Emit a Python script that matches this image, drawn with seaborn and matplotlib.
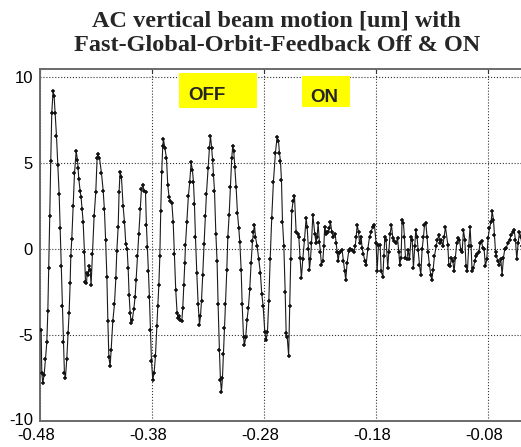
import numpy as np
import pandas as pd
import matplotlib
matplotlib.use("Agg")
import matplotlib.pyplot as plt
from matplotlib.patches import Rectangle
from matplotlib.transforms import ScaledTranslation
import seaborn as sns

# time of the first sample [s]; the sample times below are offsets in ms
T0 = -0.479

# feedback OFF part
TIME_MS_OFF = [
    0.0, 0.6, 1.5, 2.7, 3.9, 5.1, 6.0, 6.8, 7.7, 8.6,
    9.5, 10.7, 11.6, 12.5, 13.7, 14.9, 16.1, 17.0, 17.9, 19.0,
    19.9, 20.8, 21.7, 22.9, 24.1, 25.0, 25.9, 26.5, 27.4, 28.6,
    29.8, 31.3, 32.4, 33.0, 33.6, 34.8, 35.7, 36.6, 37.5, 38.7,
    39.6, 40.5, 41.1, 42.0, 42.9, 43.8, 44.6, 45.8, 47.3, 48.8,
    50.0, 50.6, 52.1, 53.9, 55.4, 56.5, 57.6, 58.7, 59.6, 60.5,
    61.6, 62.5, 64.0, 65.5, 66.7, 67.6, 68.8, 69.6, 70.5, 71.7,
    73.2, 74.4, 75.6, 76.8, 77.7, 78.6, 79.5, 80.4, 81.5, 82.7,
    83.9, 84.8, 86.0, 87.2, 88.4, 89.6, 90.8, 92.0, 93.2, 94.0,
    94.9, 95.8, 96.7, 97.6, 98.5, 99.7, 100.9, 102.1, 103.3, 104.2,
    105.1, 106.0, 106.8, 107.7, 108.6, 109.2, 110.4, 111.9, 113.1, 114.3,
    115.5, 116.7, 117.9, 119.0, 120.2, 121.4, 122.3,
    123.2, 124.4, 125.6, 126.5, 127.4, 128.3, 128.9, 130.1, 131.5, 132.7,
    133.9, 135.1, 136.0, 136.9, 137.8, 139.0, 140.2, 141.4, 142.3, 143.2,
    144.3, 145.5, 146.7, 147.6, 149.1, 150.3, 151.2, 152.2, 153.1, 153.9,
    154.8, 156.0, 157.1, 158.0, 159.2, 160.1, 161.0, 161.9, 162.8, 163.7,
    164.6, 165.8, 166.7, 167.9, 169.0, 170.2, 171.1, 172.0, 172.9, 174.1,
    175.3, 176.5, 177.4, 178.6, 179.5, 180.7, 181.5, 182.7, 183.9, 185.1,
    186.3, 187.5, 188.7, 189.6, 190.5, 191.4, 192.9, 194.3, 195.8, 197.0,
    198.2, 199.7, 200.9, 202.1, 203.3, 204.5, 205.9, 207.4, 209.2, 210.7,
    211.9, 212.8, 213.7, 214.6, 215.5, 216.7, 217.9, 218.8, 219.7, 221.0,
    222.0, 222.9, 223.8, 225.0, 226.2,
]
BEAM_UM_OFF = [
    -4.7, -7.2, -7.8, -7.3, -6.4, -5.4, -3.6, -1.1, 1.9, 5.1,
    7.9, 9.2, 8.9, 7.9, 6.6, 4.9, 3.2, 1.2, -1.0, -3.3,
    -5.4, -7.2, -7.5, -6.4, -4.9, -3.7, -2.0, -0.4, 0.6, 2.5,
    4.4, 5.7, 5.2, 4.7, 4.1, 3.4, 3.0, 2.3, 1.6, -0.2,
    -1.9, -2.0, -1.4, -1.5, -1.0, -1.2, -2.1, -0.3, 1.9, 3.3,
    5.3, 5.5, 5.3, 4.4, 3.4, 2.3, 0.5, -1.6, -4.2, -6.3,
    -6.8, -5.9, -4.2, -3.2, -1.7, -0.1, 1.3, 3.3, 4.5, 4.2,
    2.5, 1.6, 0.3, 0.0, -1.1, -2.7, -3.7, -4.3, -4.1, -3.5,
    -2.8, -1.8, -0.4, 0.9, 2.3, 3.5, 3.7, 3.4, 3.3, 1.4,
    0.1, -1.3, -2.8, -4.7, -6.5, -7.6, -7.2, -6.2, -4.5, -3.3,
    -2.1, -0.4, 2.2, 4.5, 6.0, 6.4, 5.9, 5.3, 3.7, 3.0,
    2.8, 2.7, 1.6, -0.3, -2.4, -3.7, -4.0,
    -3.9, -4.1, -4.2, -3.4, -2.1, -0.8, 0.25, 1.6, 3.1, 3.9,
    5.05, 4.6, 3.9, 2.6, 0.7, -1.4, -3.2, -4.4, -3.9, -3.0,
    -1.5, 0.3, 1.9, 3.2, 4.7, 5.9, 6.6, 5.9, 5.2, 4.3,
    3.4, 0.9, -0.7, -3.2, -5.9, -7.6, -8.3, -7.5, -6.1, -4.6,
    -3.2, -1.2, 0.7, 2.0, 3.6, 5.3, 6.0, 5.7, 4.8, 3.6,
    2.1, 1.2, 0.4, -1.2, -3.2, -5.1, -5.6, -5.1, -4.1, -3.4,
    -2.3, -0.8, 0.45, 1.0, 1.4, 0.7, 0.15, -0.6, -1.4, -2.6,
    -3.3, -4.8, -5.3, -4.8, -3.0, -0.6, 1.8, 3.9, 5.6, 6.5,
    6.3, 5.6, 5.1, 4.0, 1.6, 0.2, -2.5, -4.9, -5.1, -6.2,
    -3.3, -0.6, 2.2, 2.8, 3.1,
]

# feedback ON part
TIME_MS_ON = [
    227.7, 229.2, 230.1, 231.2, 232.4, 233.6, 235.1, 236.6, 237.5,
    238.7, 239.6, 240.5, 241.4, 242.6, 244.3, 245.5, 246.4, 247.3, 248.5,
    249.4, 250.3, 251.5, 252.4, 253.2, 254.4, 255.3, 256.5, 257.4, 258.3,
    259.5, 261.0, 262.5, 263.4, 264.3, 265.2, 266.1, 267.2, 268.7, 269.9,
    271.1, 272.0, 273.2, 274.7, 276.2, 277.7, 279.2, 280.4, 281.3, 282.2,
    283.4, 284.3, 285.7, 286.6, 287.8, 289.0,
    290.2, 291.7, 293.2, 294.6, 296.1, 297.6, 299.1, 300.0, 301.2, 302.7,
    303.6, 305.1, 306.0, 306.9, 308.0, 309.5, 310.4, 311.6, 312.8, 314.0,
    315.5, 317.0, 318.2, 319.4, 320.2, 321.4, 322.3, 323.5, 324.4, 325.3,
    326.5, 327.7, 328.9, 330.4, 331.3, 332.4, 333.6, 334.5, 335.7, 336.6,
    337.8, 339.0, 340.2, 341.4, 342.3, 343.5, 344.6, 345.5, 346.7, 347.9,
    348.8, 350.0, 351.2, 352.7, 353.9, 355.1, 356.2, 357.4, 358.6, 359.8,
    361.0,
    363.1, 364.0, 365.2, 366.4, 367.6, 368.7, 369.9, 371.1, 372.3, 373.5,
    374.7, 375.9, 377.1, 378.3, 379.4, 380.6, 381.8, 383.0, 383.9, 384.8,
    386.0, 387.2, 388.4, 389.6, 390.8, 392.0, 393.2, 394.4, 395.5, 396.7,
    397.9, 399.1, 400.3, 401.8, 402.7, 403.9, 404.8, 405.7, 406.5, 407.7,
    409.2, 410.4, 411.6, 412.8, 414.0, 415.2, 416.7, 418.2, 419.7, 421.1,
    422.3, 423.5, 424.7, 425.9, 427.1, 428.3, 429.5,
]
BEAM_UM_ON = [
    1.0, 0.9, 0.7, -0.5, -1.7, -0.6, 0.5, 1.8, 1.3,
    0.0, -1.2, -0.6, 0.35, 2.0, 0.9, 0.35, 0.7, 1.5, 0.4,
    -0.2, -0.9, -0.7, 0.15, 1.3, 0.9, 1.0, 1.0, 1.2, 1.6,
    1.0, 0.7, 0.9, 0.35, -0.15, -0.7, -0.25, -0.15, -0.05, -0.7,
    -1.3, -1.8, -0.8, -0.1, 0.0, -0.05, -0.15, 0.15, 0.7, 1.4,
    1.0, 0.35, 0.7, 0.05, -0.3, -0.7,
    -0.9, 0.0, 0.7, 1.0, 1.3, 1.4, 0.35, -1.3, 0.25, 0.25,
    -1.3, -1.6, -0.4, 0.7, 0.5, -1.1, -0.2, 0.9, 1.4, 0.65,
    0.45, 0.35, 0.65, -0.2, -0.9, -0.5, 1.7, 1.5, 0.7, -0.5,
    -0.6, -0.05, -0.6, 0.7, 0.55, -1.1, 0.15, 1.1, 0.7, -0.05,
    -0.9, -1.5, 0.0, 0.7, 1.4, 1.5, 0.7, -0.2, -0.9, -1.5,
    -1.8, -1.2, -0.4, 0.15, 0.55, 0.8, 0.35, 0.55, 0.15, 0.7,
    1.3,
    0.25, -0.9, -1.0, -0.5, -0.7, -1.3, -0.5, 0.35, 0.65, 0.55,
    -0.05, -0.15, 1.1, 0.55, -1.0, -1.3, 0.15, 1.3, 0.15, -1.3,
    -1.1, -0.7, -0.4, -0.3, -0.15, 0.35, 0.45, 0.05, 0.0, -1.0,
    -0.6, 0.65, 1.2, 1.6, 2.2, 1.7, 0.8, -0.15, -0.4, -0.7,
    -0.9, -0.6, -1.5, -0.5, 0.0, 0.05, 0.35, 0.55, 0.8, 1.0,
    1.1, 0.55, -0.6, 0.35, 1.0, 0.7, 0.15,
]

XTICKS = [-0.48, -0.38, -0.28, -0.18, -0.08]
XTICK_LABELS = ["-0.48", "-0.38", "-0.28", "-0.18", "-0.08"]
YTICKS = [-10, -5, 0, 5, 10]
YTICK_LABELS = ["-10", "-5", "0", "5", "10"]

TITLE_LINES = ["AC vertical beam motion [um] with",
               "Fast-Global-Orbit-Feedback Off & ON"]


def draw_graph():
    assert len(TIME_MS_OFF) == len(BEAM_UM_OFF)
    assert len(TIME_MS_ON) == len(BEAM_UM_ON)
    time_ms = np.array(TIME_MS_OFF + TIME_MS_ON)
    df = pd.DataFrame({"time": T0 + time_ms / 1000.0,
                       "motion": BEAM_UM_OFF + BEAM_UM_ON})

    sns.set_style("white")
    plt.rcParams["font.family"] = ["Liberation Sans", "DejaVu Sans"]
    plt.rcParams["axes.unicode_minus"] = False

    fig = plt.figure(figsize=(5.21, 4.47), dpi=100)
    ax = fig.add_axes([40 / 521, 26 / 447, 487.2 / 521, 352 / 447])

    sns.lineplot(data=df, x="time", y="motion", sort=False, estimator=None,
                 color="#1a1a1a", linewidth=0.8, marker="+", markersize=3.5,
                 markeredgewidth=1.1, markeredgecolor="#111111", ax=ax, zorder=3)

    ax.set_xlim(-0.48, -0.045)
    ax.set_ylim(-10, 10.47)
    ax.set_xticks(XTICKS)
    ax.set_xticklabels(XTICK_LABELS)
    ax.set_yticks(YTICKS)
    ax.set_yticklabels(YTICK_LABELS)
    ax.set_xlabel("")
    ax.set_ylabel("")
    ax.tick_params(direction="in", length=3, width=0.8, color="#333333",
                   top=True, right=True, labelsize=12, labelcolor="black")
    ax.tick_params(axis="y", pad=5)
    ax.tick_params(axis="x", pad=5)
    # labels sit a little left of their ticks in the original
    shift = ScaledTranslation(-4 / 100, 0, fig.dpi_scale_trans)
    for lbl in ax.get_xticklabels():
        lbl.set_transform(lbl.get_transform() + shift)
    # the "-10" label sits just above the corner
    ylbl_shift = ScaledTranslation(0, 2 / 100, fig.dpi_scale_trans)
    ylabels = ax.get_yticklabels()
    ylabels[0].set_transform(ylabels[0].get_transform() + ylbl_shift)
    ax.grid(True, linestyle=":", color="#333333", linewidth=0.8)
    for spine in ax.spines.values():
        spine.set_color("#6a6a6a")
        spine.set_linewidth(1.4)

    # OFF / ON markers
    ax.add_patch(Rectangle((0.2853, 0.8892), 0.1601, 0.0994, transform=ax.transAxes,
                           facecolor="#ffff00", edgecolor="none", zorder=4))
    ax.add_patch(Rectangle((0.5378, 0.8920), 0.0985, 0.0881, transform=ax.transAxes,
                           facecolor="#ffff00", edgecolor="none", zorder=4))
    ax.text(0.3038, 0.912, "OFF", transform=ax.transAxes, fontsize=13.5,
            fontweight="bold", ha="left", va="baseline", zorder=5)
    ax.text(0.5542, 0.907, "ON", transform=ax.transAxes, fontsize=13.5,
            fontweight="bold", ha="left", va="baseline", zorder=5)

    fig.text(0.531, 1 - 27 / 447, TITLE_LINES[0], ha="center", va="baseline",
             family=["Liberation Serif", "DejaVu Serif"], fontweight="bold", fontsize=17.5)
    fig.text(0.531, 1 - 51 / 447, TITLE_LINES[1], ha="center", va="baseline",
             family=["Liberation Serif", "DejaVu Serif"], fontweight="bold", fontsize=17.5)

    fig.savefig("out.png", dpi=100)


draw_graph()
